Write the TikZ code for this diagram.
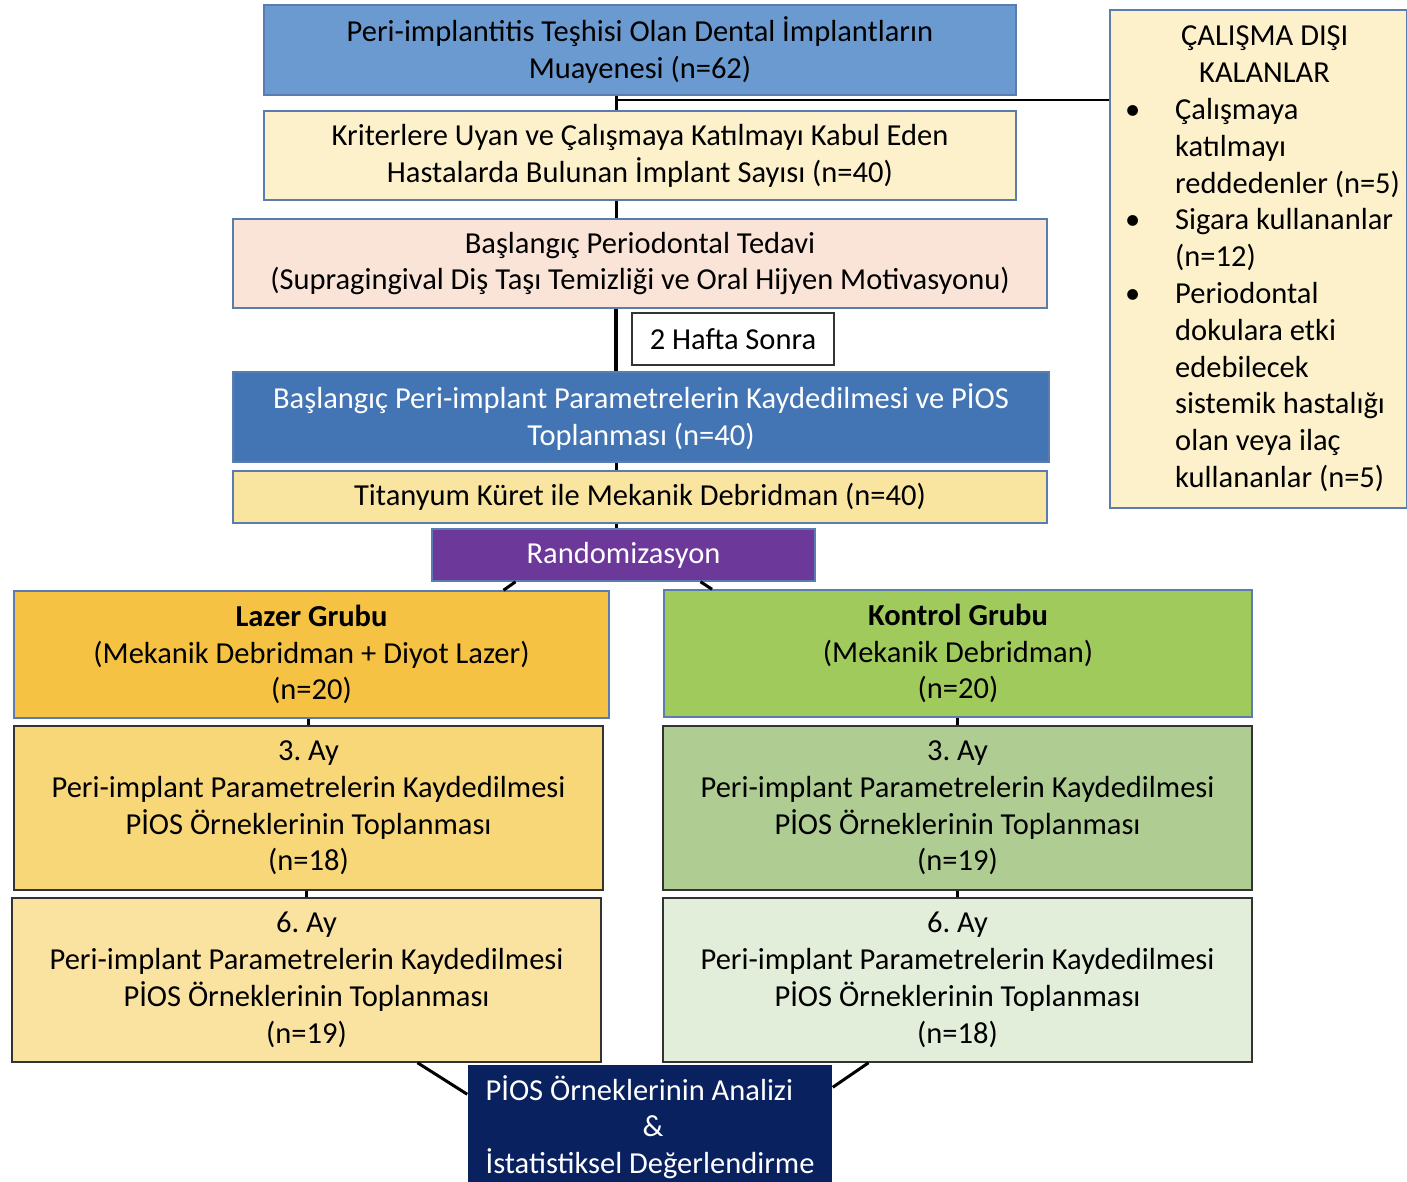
\documentclass[tikz,border=0pt]{standalone}
\usepackage{fontspec}
\setmainfont{Carlito}
\frenchspacing
\definecolor{cTop}{HTML}{6A9AD0}
\definecolor{cBord}{HTML}{5A7DB0}
\definecolor{cCream}{HTML}{FDF1CC}
\definecolor{cPeach}{HTML}{F9E4D7}
\definecolor{cBlue}{HTML}{4375B5}
\definecolor{cTit}{HTML}{FAE5A0}
\definecolor{cPurple}{HTML}{6C389A}
\definecolor{cLazer}{HTML}{F5C243}
\definecolor{cKontrol}{HTML}{A1CA5D}
\definecolor{cAyL}{HTML}{F8D778}
\definecolor{cAyR}{HTML}{AFCD93}
\definecolor{cSixL}{HTML}{FAE3A0}
\definecolor{cSixR}{HTML}{E2EEDA}
\definecolor{cNavy}{HTML}{0A2160}
\tikzset{
  txt/.style={font=\fontsize{30.5}{36.8}\selectfont\frenchspacing},
  box/.style={draw=cBord, line width=1.5pt, inner sep=0pt, align=center, txt},
  darkbox/.style={box, draw=black!80},
  conn/.style={line width=3pt, black},
}
\begin{document}
\begin{tikzpicture}[x=1pt,y=-1pt]
\useasboundingbox (0,0) rectangle (1407,1182);
\clip (0,0) rectangle (1407,1182);
\fill[white] (0,0) rectangle (1407,1182);

\node[box, fill=cTop, minimum width=752, minimum height=90] (top) at (640,50)
  {Peri-implantitis Teşhisi Olan Dental İmplantların\\Muayenesi (n=62)};
\node[box, fill=cCream, minimum width=752, minimum height=89] (krit) at (640,155.5)
  {Kriterlere Uyan ve Çalışmaya Katılmayı Kabul Eden\\Hastalarda Bulunan İmplant Sayısı (n=40)};
\node[box, fill=cPeach, minimum width=814, minimum height=89] (peri) at (640,263.5)
  {Başlangıç Periodontal Tedavi\\(Supragingival Diş Taşı Temizliği ve Oral Hijyen Motivasyonu)};
\node[darkbox, fill=white, minimum width=202, minimum height=52] (hafta) at (733,339)
  {2 Hafta Sonra};
\node[box, fill=cBlue, text=white, minimum width=816, minimum height=90] (basl) at (641,417)
  {Başlangıç Peri-implant Parametrelerin Kaydedilmesi ve PİOS\\Toplanması (n=40)};
\node[box, fill=cTit, minimum width=814, minimum height=52] (tit) at (640,497)
  {Titanyum Küret ile Mekanik Debridman (n=40)};
\node[box, fill=cPurple, text=white, minimum width=383, minimum height=52] (rand) at (623.5,555)
  {Randomizasyon};
\node[box, fill=cLazer, minimum width=595, minimum height=127] (lazer) at (311.5,654.5)
  {\textbf{Lazer Grubu}\\(Mekanik Debridman + Diyot Lazer)\\(n=20)};
\node[box, fill=cKontrol, minimum width=588, minimum height=127] (kontrol) at (958,653.5)
  {\textbf{Kontrol Grubu}\\(Mekanik Debridman)\\(n=20)};
\node[darkbox, fill=cAyL, minimum width=589, minimum height=164] (ayl) at (308.5,808)
  {3. Ay\\Peri-implant Parametrelerin Kaydedilmesi\\PİOS Örneklerinin Toplanması\\(n=18)};
\node[darkbox, fill=cAyR, minimum width=589, minimum height=164] (ayr) at (957.5,808)
  {3. Ay\\Peri-implant Parametrelerin Kaydedilmesi\\PİOS Örneklerinin Toplanması\\(n=19)};
\node[darkbox, fill=cSixL, minimum width=589, minimum height=164] (sixl) at (306.5,980)
  {6. Ay\\Peri-implant Parametrelerin Kaydedilmesi\\PİOS Örneklerinin Toplanması\\(n=19)};
\node[darkbox, fill=cSixR, minimum width=589, minimum height=164] (sixr) at (957.5,980)
  {6. Ay\\Peri-implant Parametrelerin Kaydedilmesi\\PİOS Örneklerinin Toplanması\\(n=18)};
\node[box, draw=none, fill=cNavy, text=white, minimum width=364, minimum height=124,
  align=left] (analiz) at (650,1127)
  {PİOS Örneklerinin Analizi\\\hspace*{157pt}\&\\İstatistiksel Değerlendirme};

% exclusion box
\node[box, fill=cCream, minimum width=297, minimum height=498] (excl) at (1258.5,259) {};
\node[anchor=north west, inner sep=0pt, txt] (excltext) at (1121,20)
  {\begin{tabular}{@{}p{54pt}@{}l@{}}
   \multicolumn{2}{@{}l@{}}{\hspace*{60pt}ÇALIŞMA DIŞI}\\
   \multicolumn{2}{@{}l@{}}{\hspace*{78pt}KALANLAR}\\
   \hspace*{4pt}• & Çalışmaya\\
   & katılmayı\\
   & reddedenler (n=5)\\
   \hspace*{4pt}• & Sigara kullananlar\\
   & (n=12)\\
   \hspace*{4pt}• & Periodontal\\
   & dokulara etki\\
   & edebilecek\\
   & sistemik hastalığı\\
   & olan veya ilaç\\
   & kullananlar (n=5)
   \end{tabular}};

% connectors
\coordinate (xline) at (616,0);
\coordinate (branch) at (616,100);
\draw[conn] (top.south -| xline) -- (krit.north -| xline);
\draw[line width=2.5pt] (branch) -- (branch -| excl.west);
\draw[conn] (krit.south -| xline) -- (peri.north -| xline);
\draw[line width=4pt] (peri.south -| xline) -- (basl.north -| xline);
\draw[conn] (basl.south -| xline) -- (tit.north -| xline);
\draw[conn] (tit.south -| xline) -- (rand.north -| xline);
\draw[conn] ([xshift=-108pt]rand.south) -- ([xshift=192pt]lazer.north);
\draw[conn] ([xshift=77pt]rand.south) -- ([xshift=-246pt]kontrol.north);
\draw[conn] (lazer.south -| ayl.north) -- (ayl.north);
\draw[conn] (ayl.south -| sixl.north) -- (sixl.north);
\draw[conn] (kontrol.south -| ayr.north) -- (ayr.north);
\draw[conn] (ayr.south) -- (sixr.north);
\draw[conn] ([xshift=111pt]sixl.south) -- ([yshift=-30pt]analiz.north west);
\draw[conn] ([xshift=-89pt]sixr.south) -- ([yshift=-23pt]analiz.north east);
\end{tikzpicture}
\end{document}
